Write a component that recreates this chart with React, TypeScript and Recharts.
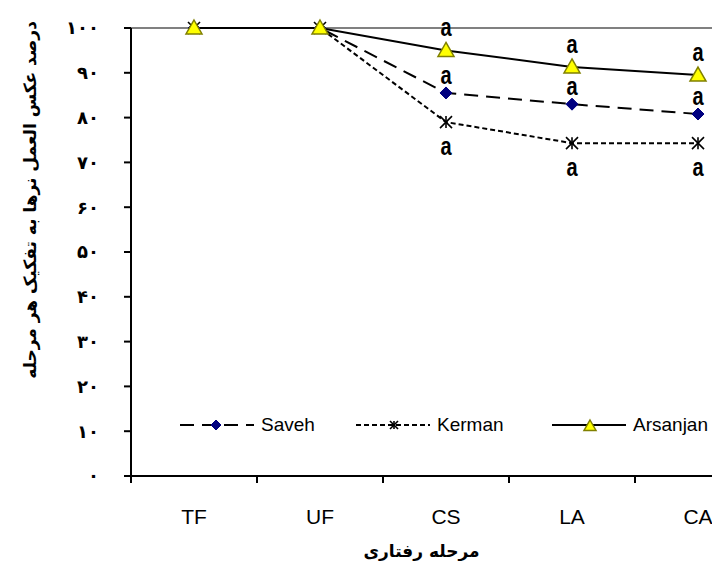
import React from 'react';
import {
  LineChart,
  Line,
  XAxis,
  YAxis,
  ReferenceLine,
  LabelList,
  Legend,
} from 'recharts';

const stages = ['TF', 'UF', 'CS', 'LA', 'CA'];
const saveh = [100, 100, 85.5, 83, 80.8];
const kerman = [100, 100, 79, 74.3, 74.3];
const arsanjan = [100, 100, 95, 91.3, 89.5];
const savehSig = ['', '', 'a', 'a', 'a'];
const kermanSig = ['', '', 'a', 'a', 'a'];
const arsanjanSig = ['', '', 'a', 'a', 'a'];
const yTicks = [0, 10, 20, 30, 40, 50, 60, 70, 80, 90, 100];

const persianDigits = '۰۱۲۳۴۵۶۷۸۹';
const toPersian = (n: number) =>
  String(n).replace(/[0-9]/g, (d) => persianDigits[Number(d)]);

const data = stages.map((stage, i) => ({
  x: i + 0.5,
  stage,
  saveh: saveh[i],
  kerman: kerman[i],
  arsanjan: arsanjan[i],
  savehSig: savehSig[i],
  kermanSig: kermanSig[i],
  arsanjanSig: arsanjanSig[i],
}));

const W = 712;
const H = 561;
const LEFT = 131;
const BAND = 126;
const X_MAX = (W - LEFT) / BAND;
const FA_FONT = "'DejaVu Sans', sans-serif";

const Diamond = ({ cx, cy, size = 6 }: any) => (
  <path
    d={`M${cx},${cy - size} L${cx + size},${cy} L${cx},${cy + size} L${cx - size},${cy} Z`}
    fill="#000080"
    stroke="#000080"
  />
);

const Star = ({ cx, cy, size = 6 }: any) => (
  <g stroke="#000" strokeWidth={1.6}>
    <line x1={cx - size} y1={cy - size} x2={cx + size} y2={cy + size} />
    <line x1={cx - size} y1={cy + size} x2={cx + size} y2={cy - size} />
    <line x1={cx} y1={cy - size} x2={cx} y2={cy + size} />
  </g>
);

const Triangle = ({ cx, cy, size = 8 }: any) => (
  <path
    d={`M${cx},${cy - size} L${cx + size},${cy + size * 0.75} L${cx - size},${cy + size * 0.75} Z`}
    fill="#ffff00"
    stroke="#808000"
    strokeWidth={1.5}
  />
);

// the "a" letters in the source are tall and narrow
const sigLabel = (dy: number) => (props: any) => {
  const { x, y, value, index } = props;
  if (!value) return null;
  return (
    <text
      key={`sig-${index}`}
      transform={`translate(${x}, ${y + dy}) scale(1, 1.3)`}
      x={0}
      y={0}
      textAnchor="middle"
      dominantBaseline="central"
      fontFamily="'Liberation Sans', Arial, sans-serif"
      fontWeight="bold"
      fontSize={20}
      fill="#000"
    >
      {value}
    </text>
  );
};

const XTick = (props: any) => {
  const { x, y, payload } = props;
  const label = stages[payload.value];
  if (!label) return null;
  return (
    <text
      x={x + BAND / 2}
      y={y}
      textAnchor="middle"
      dominantBaseline="hanging"
      fontFamily="'Liberation Sans', Arial, sans-serif"
      fontSize={21}
      fill="#000"
    >
      {label}
    </text>
  );
};

const YTitle = () => (
  <text
    transform="translate(30, 200) rotate(-90)"
    x={0}
    y={0}
    textAnchor="middle"
    dominantBaseline="central"
    fontFamily={FA_FONT}
    fontWeight="bold"
    fontSize={17}
    fill="#000"
  >
    درصد عکس العمل نرها به تفکیک هر مرحله
  </text>
);

const legendItems = [
  { name: 'Saveh', dash: '14 8', marker: 'diamond', x: 180 },
  { name: 'Kerman', dash: '5 3', marker: 'star', x: 356 },
  { name: 'Arsanjan', dash: undefined, marker: 'triangle', x: 552 },
];

const LegendContent = () => (
  <div style={{ position: 'relative', width: W, height: 24 }}>
    {legendItems.map((it) => (
      <div
        key={it.name}
        style={{
          position: 'absolute',
          left: it.x,
          top: 0,
          display: 'flex',
          alignItems: 'center',
          height: 24,
        }}
      >
        <svg width={76} height={24}>
          <line x1={0} y1={12} x2={74} y2={12} stroke="#000" strokeWidth={2} strokeDasharray={it.dash} />
          {it.marker === 'diamond' && <Diamond cx={36} cy={12} size={5} />}
          {it.marker === 'star' && <Star cx={38} cy={12} size={4} />}
          {it.marker === 'triangle' && <Triangle cx={38} cy={13} size={6} />}
        </svg>
        <span
          style={{
            fontFamily: "'Liberation Sans', Arial, sans-serif",
            fontSize: 19,
            color: '#000',
            marginLeft: 5,
          }}
        >
          {it.name}
        </span>
      </div>
    ))}
  </div>
);

export default function App() {
  return (
    <div style={{ position: 'absolute', left: 0, top: 0, width: W, height: H, background: '#fff' }}>
      <LineChart width={W} height={H} data={data} margin={{ top: 28, right: 0, bottom: 0, left: 0 }}>
        <ReferenceLine y={100} stroke="#808080" strokeWidth={2} ifOverflow="visible" />
        <XAxis
          type="number"
          dataKey="x"
          domain={[0, X_MAX]}
          ticks={[0, 1, 2, 3, 4]}
          allowDataOverflow
          height={85}
          axisLine={{ stroke: '#000', strokeWidth: 2 }}
          tickLine={{ stroke: '#000', strokeWidth: 2 }}
          tickSize={7}
          tickMargin={26}
          tick={<XTick />}
          label={{
            value: 'مرحله رفتاری',
            position: 'insideBottom',
            offset: 4,
            fill: '#000',
            fontFamily: FA_FONT,
            fontWeight: 'bold',
            fontSize: 17,
          }}
        />
        <YAxis
          type="number"
          domain={[0, 100]}
          ticks={yTicks}
          width={LEFT}
          axisLine={{ stroke: '#000', strokeWidth: 2 }}
          tickLine={{ stroke: '#000', strokeWidth: 2 }}
          tickSize={7}
          tickMargin={25}
          tickFormatter={(v: number) => toPersian(v)}
          tick={{ fill: '#000', fontSize: 18, fontWeight: 'bold', fontFamily: FA_FONT, letterSpacing: 2 }}
          label={{ content: () => <YTitle /> }}
        />
        <Legend
          verticalAlign="middle"
          layout="horizontal"
          content={<LegendContent />}
          wrapperStyle={{ position: 'absolute', left: 0, top: 413, width: W, height: 24 }}
        />
        <Line
          type="linear"
          dataKey="saveh"
          name="Saveh"
          stroke="#000"
          strokeWidth={2}
          strokeDasharray="14 8"
          dot={(p: any) => <Diamond key={`d-${p.index}`} cx={p.cx} cy={p.cy} />}
          isAnimationActive={false}
        >
          <LabelList dataKey="savehSig" content={sigLabel(-18)} />
        </Line>
        <Line
          type="linear"
          dataKey="kerman"
          name="Kerman"
          stroke="#000"
          strokeWidth={2}
          strokeDasharray="5 3"
          dot={(p: any) => <Star key={`s-${p.index}`} cx={p.cx} cy={p.cy} />}
          isAnimationActive={false}
        >
          <LabelList dataKey="kermanSig" content={sigLabel(24)} />
        </Line>
        <Line
          type="linear"
          dataKey="arsanjan"
          name="Arsanjan"
          stroke="#000"
          strokeWidth={2}
          dot={(p: any) => <Triangle key={`t-${p.index}`} cx={p.cx} cy={p.cy} />}
          isAnimationActive={false}
        >
          <LabelList dataKey="arsanjanSig" content={sigLabel(-23)} />
        </Line>
      </LineChart>
    </div>
  );
}
